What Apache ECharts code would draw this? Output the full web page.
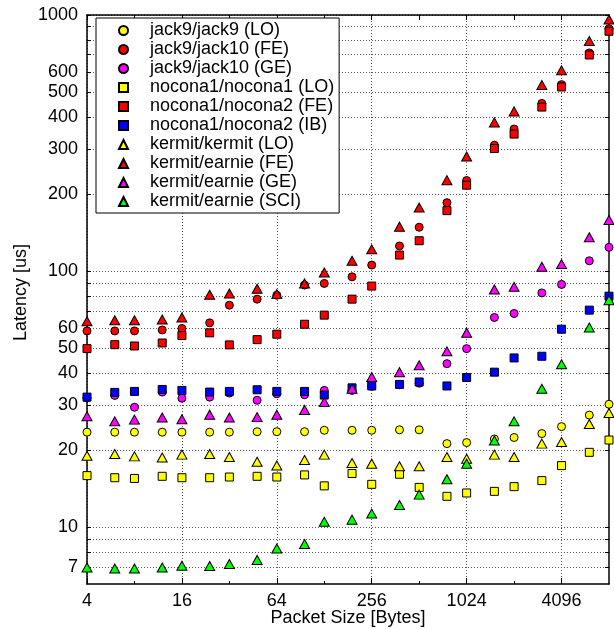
<!DOCTYPE html>
<html><head><meta charset="utf-8">
<script src="https://cdn.jsdelivr.net/npm/echarts@6/dist/echarts.min.js"></script>
<style>html,body{margin:0;padding:0;background:#fff}#c{width:614px;height:629px}</style>
</head><body><div id="c"></div>
<script>
const packetSizes = [4,6,8,12,16,24,32,48,64,96,128,192,256,384,512,768,1024,1536,2048,3072,4096,6144,8192];

const jack9LO   = [23.5,23.5,23.5,23.5,23.5,23.5,23.5,23.6,23.6,23.6,23.9,23.9,23.9,24.0,24.0,21.2,21.4,22.1,22.4,23.2,24.7,27.4,30.2];
const jack10FE  = [58.4,58.4,58.4,58.9,59.7,62.8,73.6,77.7,80.5,88.2,89.5,95.0,105.6,125.3,148.3,185,225.7,310,358.7,451.6,534.7,711,883];
const jack10GE  = [32.0,32.7,29.4,33.7,31.9,32.2,33.4,31.3,33.2,32.9,34.2,34.2,35.5,36.0,36.5,43.5,49.8,65.9,68.3,82.2,88.7,109.7,123.8];
const noconaLO  = [15.9,15.6,15.5,15.8,15.6,15.6,15.7,15.8,15.7,16.0,14.5,16.2,14.7,16.1,14.3,13.2,13.6,13.8,14.4,15.2,17.4,19.6,21.9];
const noconaFE  = [49.8,51.6,51.0,52.4,56.0,57.4,51.5,54.0,56.7,62.0,67.3,77.7,87.4,115.5,131.4,172.2,216.5,301,342.8,437,523.6,698,864];
const noconaIB  = [32.2,33.6,33.9,34.5,34.2,33.7,33.9,34.4,33.9,33.9,32.8,35.0,35.6,36.1,36.9,35.6,38.4,40.3,45.8,46.5,59.3,70.4,79.8];
const kermitLO  = [19.0,19.3,18.9,18.7,19.2,19.3,18.8,18.0,17.4,18.3,19.2,17.8,17.7,17.3,17.3,18.8,18.5,19.2,18.8,21.2,21.5,25.3,27.9];
const kermitFE  = [63.7,64.3,64.3,64.7,65.9,80.8,81.8,85.3,81.3,89.5,98.8,109.7,121.6,149.1,177,226.5,280.3,380.7,420.3,533,608,792,960];
const kermitGE  = [27.1,25.9,26.3,26.8,26.4,27.5,26.8,26.9,27.5,28.7,30.8,34.7,38.6,40.3,42.9,48.6,57.4,84.8,86.8,104,106.5,135.5,158.4];
const kermitSCI = [6.96,6.90,6.90,6.96,7.07,7.05,7.18,7.45,8.26,8.6,10.5,10.7,11.3,12.2,13.4,15.4,17.7,21.8,25.9,34.7,43.3,60.2,77.0];

const seriesNames = ['jack9/jack9 (LO)','jack9/jack10 (FE)','jack9/jack10 (GE)','nocona1/nocona1 (LO)','nocona1/nocona2 (FE)','nocona1/nocona2 (IB)','kermit/kermit (LO)','kermit/earnie (FE)','kermit/earnie (GE)','kermit/earnie (SCI)'];
const seriesValues = [jack9LO,jack10FE,jack10GE,noconaLO,noconaFE,noconaIB,kermitLO,kermitFE,kermitGE,kermitSCI];

const xLabelTicks = [4,16,64,256,1024,4096];
const xMinorTicks = [8,32,128,512,2048];
const xAllTicks = [4,8,16,32,64,128,256,512,1024,2048,4096,8192];
const yLabelTicks = [7,10,20,30,40,50,60,100,200,300,400,500,600,1000];
const yGridTicks = [7,8,9,10,20,30,40,50,60,70,80,90,100,200,300,400,500,600,700,800,900,1000];

const colors = ['#ffff00','#ff0000','#ff00ff','#ffff00','#ff0000','#0000ff','#ffff00','#ff0000','#ff00ff','#00ff00'];
const symbols = ['circle','circle','circle','rect','rect','rect','triangle','triangle','triangle','triangle'];
const sizes = {circle:[8,8], rect:[8,8], triangle:[10,9]};

const FONT = 'Liberation Sans';
const grid = {left:87, top:15, right:5, bottom:45, containLabel:false, outerBoundsMode:'none'};
const dotted = {show:true, lineStyle:{color:'#555', width:1, type:[1,2]}};
const plain = v => String(v);

const chart = echarts.init(document.getElementById('c'), null, {renderer:'canvas'});
chart.setOption({
  animation:false,
  backgroundColor:'#fff',
  grid: grid,
  textStyle:{fontFamily:FONT},
  legend:{
    orient:'vertical', left:96, top:18, padding:[3,5,2,22],
    itemWidth:9, itemHeight:9, itemGap:0,
    backgroundColor:'#fff', borderColor:'#000', borderWidth:1, borderRadius:0,
    textStyle:{fontFamily:FONT, fontSize:18, color:'#000', lineHeight:19, padding:[0,0,0,17]},
    data: seriesNames
  },
  xAxis:[
    {type:'log', logBase:2, min:4, max:8192, position:'bottom',
     name:'Packet Size [Bytes]', nameLocation:'middle', nameGap:25, nameMoveOverlap:false,
     nameTextStyle:{fontFamily:FONT, fontSize:18, color:'#000'},
     axisLine:{show:true, lineStyle:{color:'#000', width:1.5}},
     axisTick:{show:true, inside:true, length:6, customValues:xLabelTicks, lineStyle:{color:'#000'}},
     axisLabel:{show:true, margin:8, customValues:xLabelTicks, formatter:plain, fontFamily:FONT, fontSize:18, color:'#000'},
     splitLine:dotted, minorTick:{show:false}},
    {type:'log', logBase:2, min:4, max:8192, position:'top',
     axisLine:{show:true, lineStyle:{color:'#000', width:1.5}},
     axisTick:{show:true, inside:true, length:5, customValues:xAllTicks, lineStyle:{color:'#000'}},
     axisLabel:{show:false}, splitLine:{show:false}},
    {type:'log', logBase:2, min:4, max:8192, position:'bottom',
     axisLine:{show:false},
     axisTick:{show:true, inside:true, length:3, customValues:xMinorTicks, lineStyle:{color:'#000'}},
     axisLabel:{show:false}, splitLine:{show:false}}
  ],
  yAxis:[
    {type:'log', logBase:10, min:6, max:1000, position:'left',
     name:'Latency [us]', nameLocation:'middle', nameGap:57, nameRotate:90, nameMoveOverlap:false,
     nameTextStyle:{fontFamily:FONT, fontSize:18, color:'#000', padding:[0,0,0,14]},
     axisLine:{show:true, lineStyle:{color:'#000', width:1.5}},
     axisTick:{show:true, inside:true, length:4, customValues:yGridTicks, lineStyle:{color:'#000'}},
     axisLabel:{show:true, margin:9, customValues:yLabelTicks, formatter:plain, fontFamily:FONT, fontSize:18, color:'#000'},
     splitLine:dotted},
    {type:'log', logBase:10, min:6, max:1000, position:'right',
     axisLine:{show:true, lineStyle:{color:'#000', width:1.5}},
     axisTick:{show:true, inside:true, length:4, customValues:yGridTicks, lineStyle:{color:'#000'}},
     axisLabel:{show:false}, splitLine:{show:false}}
  ],
  series: seriesNames.map((name,i)=>({
    name:name, type:'scatter', xAxisIndex:0, yAxisIndex:0,
    symbol:symbols[i], symbolSize:sizes[symbols[i]],
    itemStyle:{color:colors[i], borderColor:'#000', borderWidth:1, opacity:1},
    emphasis:{disabled:true},
    z:2+i,
    data: packetSizes.map((x,j)=>[x, seriesValues[i][j]])
  }))
});
</script></body></html>
